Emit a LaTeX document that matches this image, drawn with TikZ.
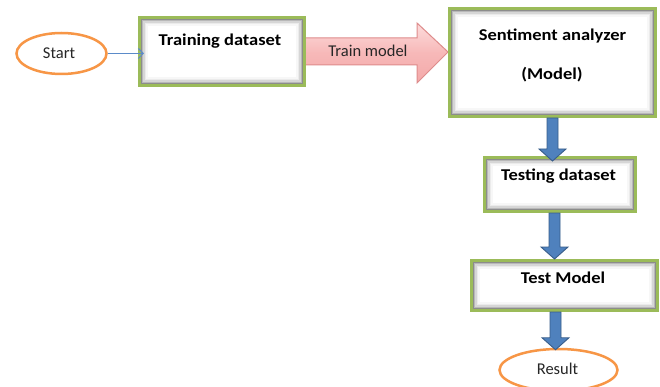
\documentclass[tikz,border=0pt]{standalone}
\usepackage{fontspec}
\setmainfont{Carlito}
\newfontfamily\bst[FakeStretch=1.12]{Carlito}
\usetikzlibrary{shapes.geometric,arrows.meta,calc}
\definecolor{boxgreen}{HTML}{9BBB59}
\definecolor{ellorange}{HTML}{F79646}
\definecolor{arrblue}{HTML}{4F81BD}
\definecolor{arrblueD}{HTML}{385D8A}
\definecolor{thinblue}{HTML}{5B8BC9}
\definecolor{pinkL}{HTML}{FDDCDC}
\definecolor{pinkD}{HTML}{F4A9A9}
\definecolor{pinkB}{HTML}{DE8C8C}
\tikzset{
  box/.style={draw=boxgreen, line width=3pt, fill=white, inner sep=0pt,
    path picture={
      \foreach \i/\c in {1.5/45,3/28,4.5/16,6/8,7.5/3}{
        \draw[line width=1.6pt, draw=black!\c]
          ([shift={(\i pt,-\i pt)}]path picture bounding box.north west) rectangle
          ([shift={(-\i pt,\i pt)}]path picture bounding box.south east);
      }
    }},
  oval/.style={ellipse, draw=ellorange, line width=2.5pt, fill=white, inner sep=0pt},
  btxt/.style={font=\bst\bfseries\fontsize{16.5}{20}\selectfont, anchor=base, text=black, inner sep=0pt},
  rtxt/.style={font=\fontsize{16.5}{20}\selectfont, anchor=base, text=black!85, inner sep=0pt},
  fatarr/.style={fill=arrblue, draw=arrblueD, line width=0.9pt, line join=miter},
  thinarr/.style={draw=thinblue, line width=1pt, -{Straight Barb[length=5pt,width=10pt,line width=1pt]}},
  pinkarr/.style={draw=pinkB, line width=1pt, top color=pinkL, bottom color=pinkD, middle color=pinkD!70!pinkL}
}
\newcommand\fatarrow[2]{%
  \path let \p1=(#1), \p2=(#2) in [fatarr]
    (\x1-5.5pt,\y1) -- (\x1-5.5pt,\y2+12pt) -- (\x1-13.5pt,\y2+12pt) -- (\x1,\y2)
    -- (\x1+13.5pt,\y2+12pt) -- (\x1+5.5pt,\y2+12pt) -- (\x1+5.5pt,\y1) -- cycle;}
\begin{document}
\begin{tikzpicture}[x=1pt,y=-1pt]
\useasboundingbox[fill=white] (0,0) rectangle (660,387);
% pink arrow
\path[pinkarr] (304,38) -- (417,38) -- (417,23) -- (448,52) -- (417,83) -- (417,65) -- (304,65) -- cycle;
\node[rtxt] (tmtxt) at (368,56.7) {Train model};
% nodes
\node[oval, minimum width=90pt, minimum height=41pt] (start) at (61.5,53.5) {};
\node[rtxt] (starttxt) at (59,59) {Start};
\node[box, minimum width=165pt, minimum height=68pt] (train) at (222,51.5) {};
\node[btxt] (traintxt) at (220,45.3) {Training dataset};
\node[box, minimum width=206pt, minimum height=108pt] (sent) at (552.5,62.5) {};
\node[btxt] (senttxt1) at (552.5,40.7) {Sentiment analyzer};
\node[btxt] (senttxt2) at (552,79.5) {(Model)};
\node[box, minimum width=151pt, minimum height=54pt] (testds) at (560,184.5) {};
\node[btxt] (testdstxt) at (558.5,180.7) {Testing dataset};
\node[box, minimum width=186pt, minimum height=50pt] (testm) at (564.5,285.5) {};
\node[btxt] (testmtxt) at (563,283.3) {Test Model};
\node[oval, minimum width=118pt, minimum height=42pt] (result) at (558.5,370) {};
\node[rtxt] (resulttxt) at (557.5,374) {Result};
% connectors
\draw[thinarr, shorten >=-6pt] (start.east) -- (start.east -| train.west);
\fatarrow{sent.south}{[yshift=-5pt]testds.north}
\fatarrow{[xshift=-5.5pt]testds.south}{testm.north}
\fatarrow{[xshift=-9pt]testm.south}{[yshift=-2pt]result.north}
\end{tikzpicture}
\end{document}
